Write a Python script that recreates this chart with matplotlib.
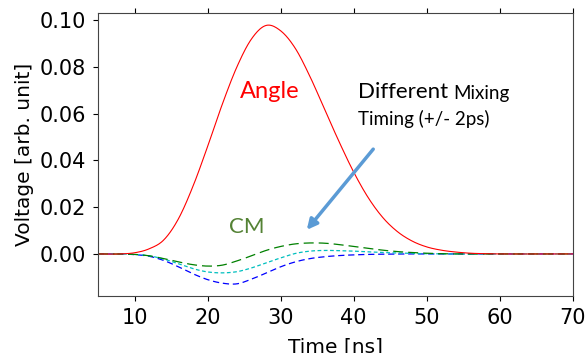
import matplotlib
matplotlib.use('Agg')
import matplotlib.pyplot as plt
import numpy as np

# time axis [ns] and signals
t = [5, 8, 10, 12, 14, 16, 18, 20, 22, 24, 26, 28, 30, 32, 34, 36, 38, 40,
     42, 44, 46, 48, 50, 52, 54, 56, 58, 60, 65, 70]
angle = [0, 0, 0.0005, 0.0022, 0.006, 0.015, 0.029, 0.046, 0.064, 0.080, 0.092, 0.0978,
         0.0955, 0.088, 0.076, 0.062, 0.048, 0.035, 0.024, 0.0155, 0.0095, 0.0055,
         0.003, 0.0016, 0.0008, 0.0003, 0.0001, 0, 0, 0]
cm_a = [0, 0, -0.0002, -0.0008, -0.002, -0.0034, -0.0046, -0.0052, -0.0048, -0.003,
        -0.0008, 0.0015, 0.0032, 0.0043, 0.0047, 0.0046, 0.0040, 0.0032, 0.0024,
        0.0016, 0.001, 0.0006, 0.0003, 0.0001, 0, 0, 0, 0, 0, 0]
cm_b = [0, 0, -0.0002, -0.0008, -0.0022, -0.0042, -0.0063, -0.0077, -0.0081, -0.0076,
        -0.006, -0.0038, -0.0017, 0.0002, 0.0012, 0.0015, 0.0014, 0.0012, 0.0009,
        0.0006, 0.0004, 0.0002, 0.0001, 0, 0, 0, 0, 0, 0, 0]
cm_c = [0, 0, -0.0003, -0.001, -0.0028, -0.0055, -0.0085, -0.011, -0.0125, -0.0128,
        -0.0108, -0.0082, -0.0055, -0.0034, -0.0020, -0.0012, -0.0007, -0.0004,
        -0.0002, -0.0001, 0, 0, 0, 0, 0, 0, 0, 0, 0, 0]


def smooth(x, y, n=600):
    # cubic Hermite (Catmull-Rom slopes) through the read points
    x = np.asarray(x, float)
    y = np.asarray(y, float)
    xs = np.linspace(x[0], x[-1], n)
    m = np.gradient(y, x)
    i = np.clip(np.searchsorted(x, xs) - 1, 0, len(x) - 2)
    h = x[i + 1] - x[i]
    s = (xs - x[i]) / h
    h00 = 2 * s**3 - 3 * s**2 + 1
    h10 = s**3 - 2 * s**2 + s
    h01 = -2 * s**3 + 3 * s**2
    h11 = s**3 - s**2
    return xs, h00 * y[i] + h10 * h * m[i] + h01 * y[i + 1] + h11 * h * m[i + 1]


fig = plt.figure(figsize=(5.87, 3.53), dpi=100)
ax = fig.add_axes([0.167, 0.1615, 0.809, 0.8015])

xs, ys = smooth(t, cm_c)
ax.plot(xs, ys, color='blue', linewidth=0.9, dashes=(5, 3))
xs, ys = smooth(t, cm_b)
ax.plot(xs, ys, color='c', linewidth=0.9, dashes=(3, 2))
xs, ys = smooth(t, cm_a)
ax.plot(xs, ys, color='green', linewidth=0.9, dashes=(8, 4))
xs, ys = smooth(t, angle)
ax.plot(xs, ys, color='red', linewidth=0.8)

ax.set_xlim(5, 70)
ax.set_ylim(-0.018, 0.1031)
ax.set_xticks([10, 20, 30, 40, 50, 60, 70])
ax.set_yticks([0.0, 0.02, 0.04, 0.06, 0.08, 0.10])
ax.tick_params(labelsize=15, top=True, pad=5)
ax.set_xlabel('Time [ns]', fontsize=14.5, labelpad=7)
ax.set_ylabel('Voltage [arb. unit]', fontsize=14.5)
for s in ax.spines.values():
    s.set_color('#444444')

txt = ['Lato', 'DejaVu Sans']
fig.text(270 / 587, 1 - 92 / 353, 'Angle', color='#FF0000', fontsize=17,
         family=txt, ha='center', va='center')
fig.text(247 / 587, 1 - 227 / 353, 'CM', color='#548235', fontsize=16,
         family=txt, ha='center', va='center')
fig.text(358 / 587, 1 - 92 / 353, 'Different', color='black', fontsize=16,
         family=txt, ha='left', va='center')
fig.text(453 / 587, 1 - 93 / 353, 'Mixing', color='black', fontsize=13.5,
         family=txt, ha='left', va='center')
fig.text(358 / 587, 1 - 119 / 353, 'Timing (+/- 2ps)', color='black', fontsize=13.5,
         family=txt, ha='left', va='center')

ax.annotate('', xy=(305 / 587, 1 - 232 / 353), xycoords='figure fraction',
            xytext=(375 / 587, 1 - 147 / 353), textcoords='figure fraction',
            arrowprops=dict(arrowstyle='-|>,head_length=0.6,head_width=0.3',
                            color='#5B9BD5', lw=2.5))

fig.savefig('out.png', dpi=100)
